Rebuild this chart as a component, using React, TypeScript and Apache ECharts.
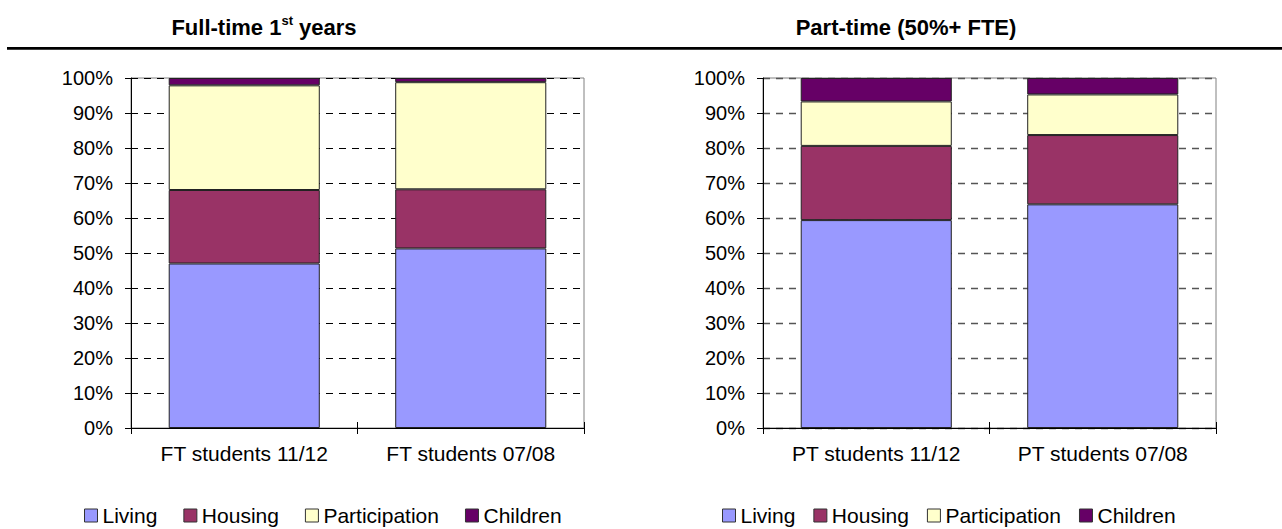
import React, { useEffect, useRef } from "react";
import * as echarts from "echarts";

const seriesNames = ["Living", "Housing", "Participation", "Children"];
const colors = ["#9999FF", "#993366", "#FFFFCC", "#660066"];

const ftCategories = ["FT students 11/12", "FT students 07/08"];
const ftLiving = [47.0, 51.3];
const ftHousing = [21.0, 16.9];
const ftParticipation = [29.9, 30.6];
const ftChildren = [2.1, 1.2];

const ptCategories = ["PT students 11/12", "PT students 07/08"];
const ptLiving = [59.4, 63.9];
const ptHousing = [21.2, 19.8];
const ptParticipation = [12.7, 11.6];
const ptChildren = [6.7, 4.7];

const yTicks = [0, 10, 20, 30, 40, 50, 60, 70, 80, 90, 100];

const FONT = "'Liberation Sans', Arial, sans-serif";

export default function App() {
  const ref = useRef<HTMLDivElement>(null);

  useEffect(() => {
    if (!ref.current) return;
    const chart = echarts.init(ref.current, undefined, { renderer: "svg" });

    const ftData = [ftLiving, ftHousing, ftParticipation, ftChildren];
    const ptData = [ptLiving, ptHousing, ptParticipation, ptChildren];

    const grids = [
      { left: 131, top: 78, width: 453, height: 350 },
      { left: 763, top: 78, width: 453, height: 350 },
    ];
    const splitColors = ["#000000", "#555555"];
    const catSets = [ftCategories, ptCategories];

    const xAxes: any[] = catSets.map((cats, i) => ({
      type: "category",
      gridIndex: i,
      data: cats,
      boundaryGap: true,
      axisLine: { show: true, lineStyle: { color: "#000", width: 1 } },
      axisTick: { show: true, alignWithLabel: false, length: 6, lineStyle: { color: "#000" } },
      axisLabel: { color: "#000", fontSize: 21, fontFamily: FONT, margin: 15 },
      splitLine: { show: false },
    }));
    // inner half of the crossing tick marks
    catSets.forEach((cats, i) => {
      xAxes.push({
        type: "category",
        gridIndex: i,
        data: cats,
        boundaryGap: true,
        position: "bottom",
        axisLine: { show: false },
        axisTick: { show: true, inside: true, alignWithLabel: false, length: 6, lineStyle: { color: "#000" } },
        axisLabel: { show: false },
        splitLine: { show: false },
      });
    });

    const yAxes = [0, 1].map((i) => ({
      type: "value" as const,
      gridIndex: i,
      min: yTicks[0],
      max: yTicks[yTicks.length - 1],
      interval: 10,
      axisLine: { show: true, lineStyle: { color: "#000", width: 1 } },
      axisTick: { show: true, length: 6, lineStyle: { color: "#000" } },
      axisLabel: {
        color: "#000",
        fontSize: 20,
        fontFamily: FONT,
        margin: 18,
        formatter: (v: number) => v + "%",
      },
      splitLine: {
        show: true,
        lineStyle: { color: splitColors[i], type: [7, 6], width: i === 0 ? 1 : 1.3 },
      },
    }));

    const series: any[] = [];
    [ftData, ptData].forEach((dataSet, gi) => {
      dataSet.forEach((vals, si) => {
        series.push({
          type: "bar",
          name: seriesNames[si],
          xAxisIndex: gi,
          yAxisIndex: gi,
          stack: "s" + gi,
          barWidth: "66.7%",
          data: vals,
          itemStyle: { color: colors[si], borderColor: "#222", borderWidth: 1 },
        });
      });
    });

    const legendBase = {
      data: seriesNames,
      orient: "horizontal" as const,
      icon: "rect",
      itemWidth: 13,
      itemHeight: 13,
      textStyle: { color: "#000", fontSize: 21, fontFamily: FONT },
      itemStyle: { borderColor: "#333", borderWidth: 1 },
      selectedMode: false,
      padding: 0,
    };

    const titleRich = {
      a: { fontSize: 22, fontWeight: "bold" as const, fontFamily: FONT, color: "#000", lineHeight: 26 },
      sup: { fontSize: 13, fontWeight: "bold" as const, fontFamily: FONT, color: "#000", verticalAlign: "top" as const, lineHeight: 26, padding: [0, 0, 11, 0] },
    };

    chart.setOption({
      animation: false,
      backgroundColor: "#fff",
      grid: grids.map((g) => ({ ...g, show: true, borderColor: "#808080", borderWidth: 1, backgroundColor: "transparent" })),
      xAxis: xAxes,
      yAxis: yAxes,
      series,
      legend: [
        { ...legendBase, left: 84, top: 505, itemGap: 26 },
        { ...legendBase, left: 722, top: 505, itemGap: 18 },
      ],
      graphic: [
        {
          type: "text",
          x: 264,
          y: 14,
          style: {
            text: "{a|Full-time 1}{sup|st}{a| years}",
            rich: titleRich,
            align: "center",
            verticalAlign: "top",
          },
        },
        {
          type: "text",
          x: 906,
          y: 14,
          style: {
            text: "{a|Part-time (50%+ FTE)}",
            rich: titleRich,
            align: "center",
            verticalAlign: "top",
          },
        },
        {
          type: "rect",
          shape: { x: 7, y: 47, width: 1275, height: 2.7 },
          style: { fill: "#000" },
        },
      ],
    });

    return () => chart.dispose();
  }, []);

  return (
    <div
      ref={ref}
      style={{ position: "fixed", left: 0, top: 0, width: 1282, height: 529, background: "#fff" }}
    />
  );
}
